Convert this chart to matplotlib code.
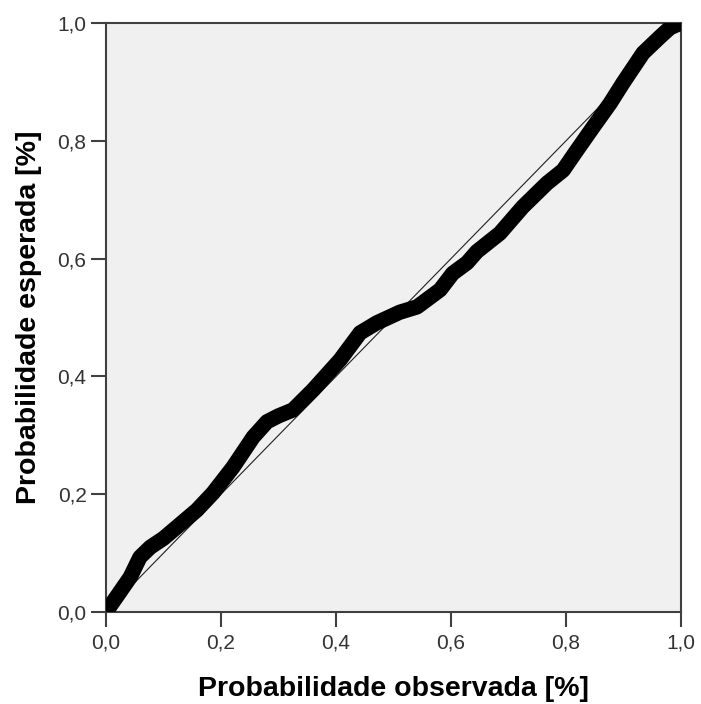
#!/usr/bin/env python3
"""
P-P plot: observed vs expected cumulative probability
"""

import matplotlib
matplotlib.use('Agg')
import matplotlib.pyplot as plt
from matplotlib.ticker import FuncFormatter

# ============== data ==============
prob_observada = [0.000, 0.020, 0.042, 0.059, 0.077, 0.100, 0.123, 0.158, 0.186,
                  0.221, 0.256, 0.280, 0.300, 0.325, 0.360, 0.407, 0.442, 0.471,
                  0.511, 0.541, 0.581, 0.603, 0.628, 0.645, 0.685, 0.725, 0.767,
                  0.795, 0.819, 0.847, 0.877, 0.899, 0.934, 0.963, 0.981, 1.000]
prob_esperada = [0.000, 0.028, 0.059, 0.093, 0.110, 0.125, 0.144, 0.173, 0.202,
                 0.246, 0.297, 0.323, 0.333, 0.343, 0.377, 0.428, 0.474, 0.491,
                 0.509, 0.518, 0.547, 0.575, 0.593, 0.612, 0.643, 0.688, 0.728,
                 0.750, 0.784, 0.823, 0.864, 0.898, 0.949, 0.976, 0.992, 1.000]
ref_line = [0.0, 1.0]
tick_values = [0.0, 0.2, 0.4, 0.6, 0.8, 1.0]

XLABEL = 'Probabilidade observada [%]'
YLABEL = 'Probabilidade esperada [%]'
# ========================================================

BG_COLOR = '#f0f0f0'
SPINE_COLOR = '#404040'


def comma_fmt(v, _pos):
    return f'{v:.1f}'.replace('.', ',')


def main():
    plt.rcParams['font.family'] = ['Liberation Sans', 'DejaVu Sans']

    fig = plt.figure(figsize=(7.01, 7.04), dpi=100)
    ax = fig.add_axes([106 / 701, 1 - 612 / 704, 575 / 701, 589 / 704])
    ax.set_facecolor(BG_COLOR)

    # diagonal reference line under the thick point band
    ax.plot(ref_line, ref_line, color='#202020', lw=0.8, zorder=2)
    ax.plot(prob_observada, prob_esperada, color='black', lw=11,
            solid_capstyle='round', solid_joinstyle='round', zorder=3)

    ax.set_xlim(0, 1)
    ax.set_ylim(0, 1)
    ax.set_xticks(tick_values)
    ax.set_yticks(tick_values)
    ax.xaxis.set_major_formatter(FuncFormatter(comma_fmt))
    ax.yaxis.set_major_formatter(FuncFormatter(comma_fmt))
    ax.tick_params(direction='out', length=10.5, width=1.5, color=SPINE_COLOR,
                   labelsize=15, labelcolor='#333333')
    ax.tick_params(axis='x', pad=5)
    ax.tick_params(axis='y', pad=3.5)

    for side in ['left', 'bottom', 'top', 'right']:
        ax.spines[side].set_color(SPINE_COLOR)
        ax.spines[side].set_linewidth(1.5)

    ax.set_xlabel(XLABEL, fontsize=20.5, fontweight='bold')
    ax.set_ylabel(YLABEL, fontsize=20.5, fontweight='bold')
    ax.xaxis.set_label_coords(0.5, -0.108)
    ax.yaxis.set_label_coords(-0.112, 0.5)

    fig.savefig('out.png', dpi=100, facecolor='white')
    plt.close(fig)


if __name__ == '__main__':
    main()
